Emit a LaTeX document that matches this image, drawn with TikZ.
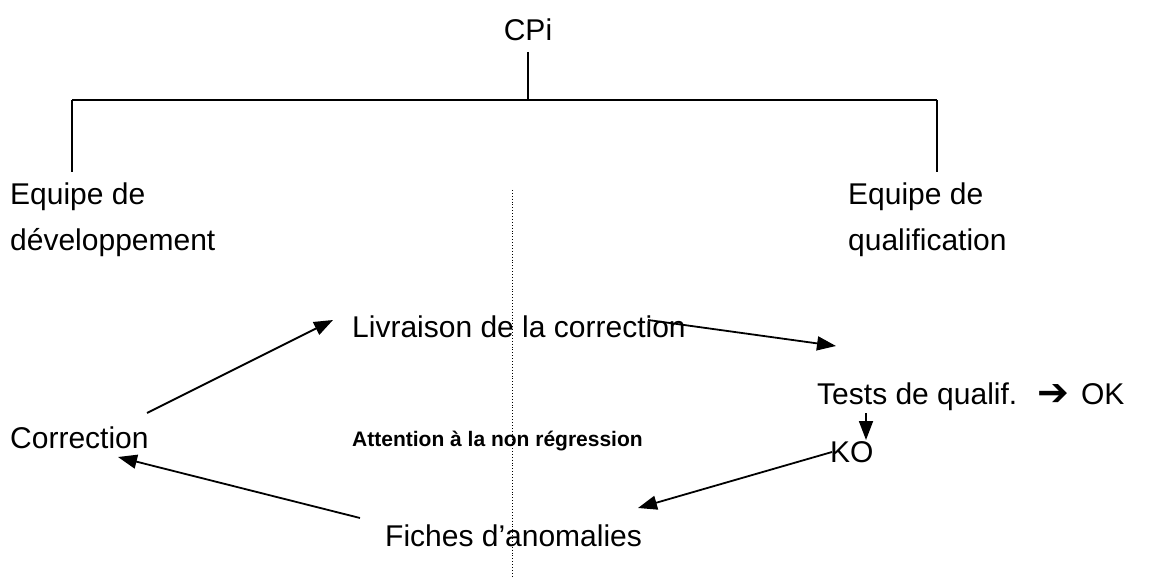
\documentclass[tikz,border=0pt]{standalone}
\usepackage{fontspec}
\setmainfont{Liberation Sans}
\newfontfamily\dejavub{DejaVu Sans Bold}
\usetikzlibrary{arrows.meta,calc}
\begin{document}
\begin{tikzpicture}[x=1pt,y=-1pt,
  lbl/.style={inner sep=0pt,anchor=west,font=\fontsize{30}{46}\selectfont,align=left},
  smalllbl/.style={inner sep=0pt,anchor=west,font=\fontsize{21}{25}\selectfont\bfseries},
  treeline/.style={line width=1.5pt},
  arr/.style={line width=1.8pt,-{Triangle[length=19pt,width=14pt]}},
  sep/.style={dotted,line width=0.9pt}]
\useasboundingbox (0,0) rectangle (1149,577);
\node[lbl,anchor=center] (cpi) at (528,30) {CPi};
\node[lbl] (dev) at (10,220) {Equipe de\\développement};
\node[lbl] (qual) at (848,220) {Equipe de\\qualification};
\node[lbl] (livr) at (352,327) {Livraison de la correction};
\node[lbl] (tests) at (817,397) {Tests de qualif.\hspace{20pt}\raisebox{-1pt}{\dejavub\fontsize{38}{40}\selectfont ➔}\hspace{12pt}OK};
\node[lbl] (corr) at (10,438) {Correction};
\node[smalllbl] (att) at (352,441) {Attention à la non régression};
\node[lbl] (ko) at (830,452) {KO};
\node[lbl] (fiches) at (385,536) {Fiches d’anomalies};
% tree
\coordinate (ctop) at (528,52);
\coordinate (hub) at (528,100);
\coordinate (hl) at (72,100);
\coordinate (hr) at (937,100);
\coordinate (dl) at (72,172);
\coordinate (dr) at (937,172);
\draw[treeline] (ctop) -- (hub);
\draw[treeline] (hl) -- (hr);
\draw[treeline] (hl) -- (dl);
\draw[treeline] (hr) -- (dr);
% separator
\coordinate (s1) at (512,190);
\coordinate (s2) at (512,577);
\draw[sep] (s1) -- (s2);
% cycle arrows
\draw[arr] ($(corr.west)+(137,-25)$) -- ($(livr.west)+(-19,-7)$);
\draw[arr] ($(livr.west)+(296,-7)$) -- ($(tests.west)+(19,-51)$);
\draw[arr] ($(tests.west)+(49,16)$) -- ($(ko.west)+(36,-12)$);
\draw[arr] ($(ko.west)+(2,0)$) -- ($(fiches.west)+(253,-28)$);
\draw[arr] ($(fiches.west)+(-25,-18)$) -- ($(corr.west)+(108,19)$);
\end{tikzpicture}
\end{document}
